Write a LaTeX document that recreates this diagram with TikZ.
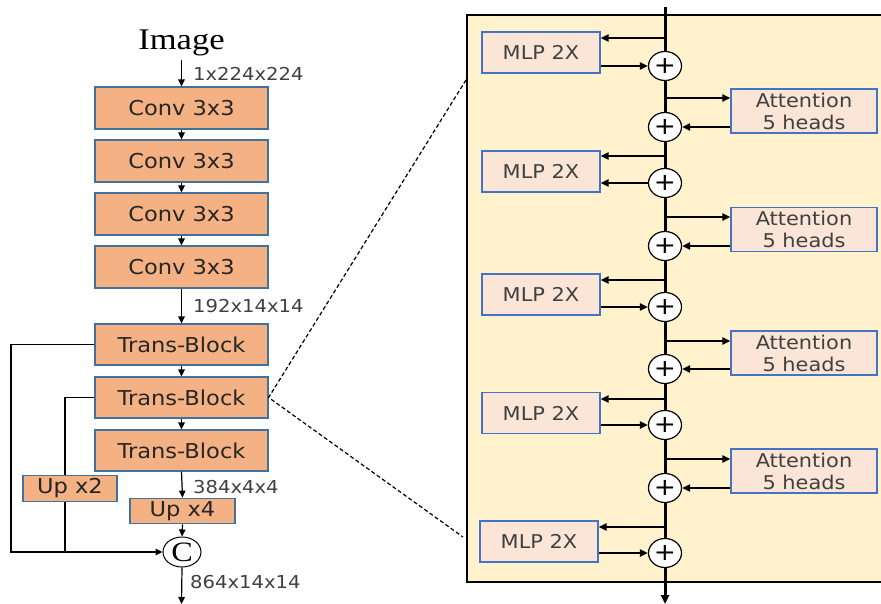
\documentclass[tikz,border=0pt]{standalone}
\usepackage{fontspec}
\usetikzlibrary{arrows.meta,shapes.geometric}
\newfontfamily\sansf[FakeStretch=1.1]{DejaVu Sans}
\newfontfamily\serf[FakeStretch=1.15]{Liberation Serif}
\definecolor{convfill}{HTML}{F4B183}
\definecolor{convdraw}{HTML}{41719C}
\definecolor{mlpfill}{HTML}{FBE5D6}
\definecolor{mlpdraw}{HTML}{4472C4}
\definecolor{panelfill}{HTML}{FFF2CC}
\definecolor{txt}{HTML}{262626}
\definecolor{lbl}{HTML}{404040}
\begin{document}
\begin{tikzpicture}[x=1pt,y=-1pt,
 convbox/.style={draw=convdraw, fill=convfill, line width=1.2pt, minimum width=173pt, minimum height=42pt, inner sep=0pt, font=\sansf\fontsize{20.5}{22}\selectfont, text=txt},
 upbox/.style={convbox, minimum height=25.5pt},
 mlpbox/.style={draw=mlpdraw, fill=mlpfill, line width=1.2pt, minimum width=118pt, minimum height=41pt, inner sep=0pt, font=\sansf\fontsize{19}{20}\selectfont, text=lbl},
 attbox/.style={mlpbox, minimum width=146pt, minimum height=44pt, align=center, font=\sansf\fontsize{19}{22}\selectfont},
 lbltxt/.style={font=\sansf\fontsize{17.8}{20}\selectfont, text=lbl, anchor=base west, inner sep=0pt},
 plusnode/.style={ellipse, draw, line width=1.2pt, fill=white, minimum width=33pt, minimum height=29pt, inner sep=0pt, font=\sansf\fontsize{24}{24}\selectfont},
 catnode/.style={ellipse, draw, line width=1pt, fill=white, minimum width=38pt, minimum height=30pt, inner sep=0pt, font=\serf\fontsize{28}{28}\selectfont},
 arr/.style={line width=1.2pt, -{Triangle[length=7pt,width=6.5pt]}},
 thin/.style={line width=1.2pt},
 rarr/.style={line width=2pt, -{Triangle[length=8pt,width=7pt]}},
 mainln/.style={line width=3pt},
]
\clip (0,0) rectangle (881,604);

% ---------------- right panel ----------------
\draw[line width=2pt, fill=panelfill] (467,15.5) rectangle (895,582);

% ---------------- left column ----------------
\node[font=\serf\fontsize{30}{30}\selectfont, anchor=base, inner sep=0pt, text=black] (img) at (181.5,50) {Image};
\coordinate (imgout) at (181.5,60);
\node[convbox] (c1) at (181.5,108) {Conv 3x3};
\node[convbox] (c2) at (181.5,161) {Conv 3x3};
\node[convbox] (c3) at (181.5,214) {Conv 3x3};
\node[convbox] (c4) at (181.5,267) {Conv 3x3};
\node[convbox, minimum height=41pt] (t1) at (181.5,344.5) {Trans-Block};
\node[convbox, minimum height=41pt] (t2) at (181.5,397.5) {Trans-Block};
\node[convbox, minimum height=41pt] (t3) at (181.5,450.5) {Trans-Block};
\node[upbox, minimum width=105pt] (up4) at (182.5,511) {Up x4};
\node[upbox, minimum width=94pt] (up2) at (70,488.5) {Up x2};
\node[catnode] (cc) at (182,552) {C};
\coordinate (outc) at (181.5,604);

\node[lbltxt] (l1) at (193,80.5) {1x224x224};
\node[lbltxt] (l2) at (193,312.5) {192x14x14};
\node[lbltxt] (l3) at (193,493) {384x4x4};
\node[lbltxt] (l4) at (190,588) {864x14x14};

\draw[arr] (imgout) -- (c1.north);
\draw[arr] (c1.south) -- (c2.north);
\draw[arr] (c2.south) -- (c3.north);
\draw[arr] (c3.south) -- (c4.north);
\draw[arr] (c4.south) -- (t1.north);
\draw[arr] (t1.south) -- (t2.north);
\draw[arr] (t2.south) -- (t3.north);
\draw[arr] (t3.south) -- (up4.north);
\draw[arr] (up4.south) -- (cc.north);
\draw[arr] (cc.south) -- (outc);

\coordinate (lx1) at (11,0);
\coordinate (lx2) at (65,0);
\draw[arr] (t1.west) -- (t1.west -| lx1) -- (lx1 |- cc) -- (cc.west);
\draw[thin] (t2.west) -- (t2.west -| lx2) -- (lx2 |- up2.north);
\draw[thin] (lx2 |- up2.south) -- (lx2 |- cc);

% dashed zoom lines
\coordinate (dz1) at (466,80);
\coordinate (dz2) at (463,537);
\draw[line width=1.2pt, dash pattern=on 4pt off 2.5pt] (dz1) -- (t2.east) -- (dz2);

% ---------------- right panel content ----------------
\node[mlpbox] (m1) at (541,52.5) {MLP 2X};
\node[mlpbox] (m2) at (541,171.5) {MLP 2X};
\node[mlpbox] (m3) at (541,294.5) {MLP 2X};
\node[mlpbox] (m4) at (541,413) {MLP 2X};
\node[mlpbox] (m5) at (539,541.5) {MLP 2X};

\node[attbox] (a1) at (804,111) {Attention\\5 heads};
\node[attbox] (a2) at (804,229.5) {Attention\\5 heads};
\node[attbox] (a3) at (804,353) {Attention\\5 heads};
\node[attbox] (a4) at (804,471) {Attention\\5 heads};

\node[plusnode] (p1) at (665,66) {+};
\node[plusnode] (p2) at (665,127) {+};
\node[plusnode] (p3) at (665,183) {+};
\node[plusnode] (p4) at (665,246) {+};
\node[plusnode] (p5) at (665,307) {+};
\node[plusnode] (p6) at (665,369) {+};
\node[plusnode] (p7) at (665,425) {+};
\node[plusnode] (p8) at (665,488) {+};
\node[plusnode] (p9) at (665,553) {+};

\coordinate (top) at (665,7);
\coordinate (bot) at (665,604);
\draw[mainln] (top) -- (p1.north);
\draw[mainln] (p1.south) -- (p2.north);
\draw[mainln] (p2.south) -- (p3.north);
\draw[mainln] (p3.south) -- (p4.north);
\draw[mainln] (p4.south) -- (p5.north);
\draw[mainln] (p5.south) -- (p6.north);
\draw[mainln] (p6.south) -- (p7.north);
\draw[mainln] (p7.south) -- (p8.north);
\draw[mainln] (p8.south) -- (p9.north);
\draw[mainln, -{Triangle[length=9pt,width=8pt]}] (p9.south) -- (bot);

% MLP branches
\coordinate (s1) at (665,38);
\coordinate (s2) at (665,156);
\coordinate (s3) at (665,280);
\coordinate (s4) at (665,399);
\coordinate (s5) at (665,527);
\draw[rarr] (s1) -- (s1 -| m1.east);
\draw[rarr] (s2) -- (s2 -| m2.east);
\draw[rarr] (s3) -- (s3 -| m3.east);
\draw[rarr] (s4) -- (s4 -| m4.east);
\draw[rarr] (s5) -- (s5 -| m5.east);
\draw[rarr] (m1.east |- p1) -- (p1.west);
\draw[rarr] (p3.west) -- (p3.west -| m2.east);
\draw[rarr] (m3.east |- p5) -- (p5.west);
\draw[rarr] (m4.east |- p7) -- (p7.west);
\draw[rarr] (m5.east |- p9) -- (p9.west);

% Attention branches
\coordinate (r1) at (665,98);
\coordinate (r2) at (665,217);
\coordinate (r3) at (665,341);
\coordinate (r4) at (665,459);
\draw[rarr] (r1) -- (r1 -| a1.west);
\draw[rarr] (r2) -- (r2 -| a2.west);
\draw[rarr] (r3) -- (r3 -| a3.west);
\draw[rarr] (r4) -- (r4 -| a4.west);
\draw[rarr] (a1.west |- p2) -- (p2.east);
\draw[rarr] (a2.west |- p4) -- (p4.east);
\draw[rarr] (a3.west |- p6) -- (p6.east);
\draw[rarr] (a4.west |- p8) -- (p8.east);
\end{tikzpicture}
\end{document}
